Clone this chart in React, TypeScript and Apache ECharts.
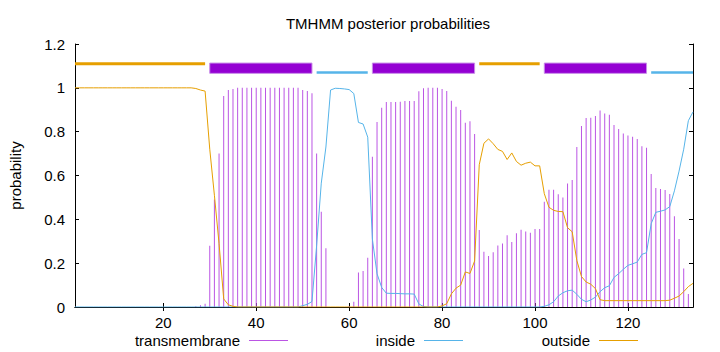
import React, { useEffect, useRef } from "react";
import * as echarts from "echarts";

// residue index (1..134)
const residues: number[] = Array.from({ length: 134 }, (_, i) => i + 1);

// posterior probability of transmembrane, residues 1..134
const tmProb: number[] = [
  0, 0, 0, 0, 0, 0, 0, 0, 0, 0,
  0, 0, 0, 0, 0, 0, 0, 0, 0, 0,
  0, 0, 0, 0, 0, 0, 0.003, 0.008, 0.015, 0.28,
  0.49, 0.70, 0.963, 0.99, 0.995, 1, 1, 1, 1, 1,
  1, 1, 1, 1, 1, 1, 1, 1, 1, 0.99,
  0.985, 0.975, 0.70, 0.435, 0.268, 0, 0, 0, 0, 0.005,
  0.024, 0.157, 0.164, 0.225, 0.686, 0.844, 0.909, 0.935, 0.935, 0.935,
  0.937, 0.94, 0.94, 0.94, 0.984, 0.998, 1, 1, 1, 0.995,
  0.985, 0.941, 0.914, 0.899, 0.841, 0.847, 0.789, 0.351, 0.252, 0.233,
  0.25, 0.281, 0.29, 0.327, 0.297, 0.336, 0.353, 0.344, 0.339, 0.356,
  0.356, 0.48, 0.535, 0.535, 0.514, 0.5, 0.564, 0.58, 0.73, 0.826,
  0.862, 0.864, 0.871, 0.897, 0.883, 0.877, 0.83, 0.812, 0.792, 0.783,
  0.777, 0.766, 0.734, 0.727, 0.607, 0.543, 0.538, 0.534, 0.516, 0.414,
  0.31, 0.176, 0.059, 0
];

// posterior probability of inside, residues 1..134
const insideProb: number[] = [
  0, 0, 0, 0, 0, 0, 0, 0, 0, 0,
  0, 0, 0, 0, 0, 0, 0, 0, 0, 0,
  0, 0, 0, 0, 0, 0, 0, 0, 0, 0,
  0, 0, 0, 0, 0, 0, 0, 0, 0, 0,
  0, 0, 0, 0, 0, 0, 0, 0, 0, 0.006,
  0.012, 0.025, 0.28, 0.565, 0.73, 0.99, 0.998, 0.997, 0.995, 0.992,
  0.974, 0.842, 0.835, 0.775, 0.31, 0.152, 0.089, 0.063, 0.062, 0.062,
  0.061, 0.06, 0.06, 0.059, 0.014, 0.002, 0, 0, 0, 0,
  0, 0, 0, 0, 0, 0, 0, 0, 0, 0,
  0, 0, 0, 0, 0, 0, 0, 0, 0, 0,
  0, 0.003, 0.01, 0.024, 0.05, 0.065, 0.074, 0.077, 0.058, 0.035,
  0.024, 0.032, 0.045, 0.07, 0.088, 0.097, 0.135, 0.152, 0.172, 0.19,
  0.197, 0.205, 0.24, 0.248, 0.38, 0.432, 0.437, 0.443, 0.458, 0.53,
  0.62, 0.72, 0.85, 0.89
];

// posterior probability of outside, residues 1..134
const outsideProb: number[] = [
  1, 1, 1, 1, 1, 1, 1, 1, 1, 1,
  1, 1, 1, 1, 1, 1, 1, 1, 1, 1,
  1, 1, 1, 1, 1, 1, 0.997, 0.99, 0.985, 0.72,
  0.51, 0.29, 0.037, 0.01, 0.003, 0, 0, 0, 0, 0,
  0, 0, 0, 0, 0, 0, 0, 0, 0, 0,
  0, 0, 0, 0, 0, 0, 0, 0, 0, 0,
  0, 0, 0, 0, 0, 0, 0, 0, 0, 0,
  0, 0, 0, 0, 0, 0, 0, 0, 0, 0.005,
  0.015, 0.06, 0.086, 0.1, 0.16, 0.153, 0.21, 0.649, 0.747, 0.767,
  0.745, 0.719, 0.71, 0.673, 0.703, 0.664, 0.647, 0.656, 0.661, 0.644,
  0.644, 0.517, 0.455, 0.441, 0.436, 0.435, 0.362, 0.343, 0.212, 0.139,
  0.114, 0.104, 0.084, 0.033, 0.029, 0.029, 0.029, 0.029, 0.029, 0.029,
  0.029, 0.029, 0.029, 0.029, 0.029, 0.029, 0.029, 0.029, 0.031, 0.04,
  0.05, 0.07, 0.093, 0.108
];

// predicted topology segments
const segStart: number[] = [1, 30, 53, 65, 88, 102, 125];
const segEnd: number[] = [29, 52, 64, 87, 101, 124, 134];
const segType: string[] = ["outside", "TMhelix", "inside", "TMhelix", "outside", "TMhelix", "inside"];

const xTicks: number[] = [20, 40, 60, 80, 100, 120];

// legend entries
const legendNames: string[] = ["transmembrane", "inside", "outside"];

const PURPLE = "#9400D3";
const IMPULSE = "#bb55e4";
const BLUE = "#56B4E9";
const ORANGE = "#E69F00";
const FONT = "Liberation Sans";

export default function App() {
  const ref = useRef<HTMLDivElement>(null);
  useEffect(() => {
    if (!ref.current) return;
    const chart = echarts.init(ref.current, undefined, { renderer: "svg" });

    const tmData = residues.map((r, i) => [r, tmProb[i]]);
    const inData = residues.map((r, i) => [r, insideProb[i]]);
    const outData = residues.map((r, i) => [r, outsideProb[i]]);
    const segData = segStart.map((s, i) => [s, segEnd[i], segType[i] === "TMhelix" ? 1 : segType[i] === "inside" ? 2 : 0]);

    const axisLine = { show: true, lineStyle: { color: "#000", width: 1 } };
    const tick = { show: true, inside: true, length: 4, lineStyle: { color: "#000" } };

    // legend layout: equal columns, text right-aligned followed by a sample line
    const legendColors = [IMPULSE, BLUE, ORANGE];
    const colRight = [288, 463, 638];
    const legendY = 340;
    const legendGraphics: any[] = [];
    legendNames.forEach((name, i) => {
      const lineEnd = colRight[i];
      const lineStart = lineEnd - 39;
      legendGraphics.push({
        type: "text",
        x: lineStart - 9,
        y: legendY,
        style: {
          text: name,
          fill: "#000",
          font: `15px "${FONT}"`,
          textAlign: "right",
          textVerticalAlign: "middle",
        },
      });
      legendGraphics.push({
        type: "line",
        shape: { x1: lineStart, y1: legendY + 0.5, x2: lineEnd, y2: legendY + 0.5 },
        style: { stroke: legendColors[i], lineWidth: 1 },
      });
    });

    chart.setOption({
      animation: false,
      title: {
        text: "TMHMM posterior probabilities",
        left: 383,
        top: 11,
        textAlign: "center",
        textStyle: { fontFamily: FONT, fontSize: 15, fontWeight: "normal", color: "#000" },
      },
      graphic: legendGraphics,
      grid: { left: 73, right: 27, top: 44, bottom: 45, containLabel: false },
      xAxis: [
        {
          type: "value",
          min: 1,
          max: 134,
          axisLine,
          axisTick: { ...tick, customValues: xTicks },
          axisLabel: { customValues: xTicks, fontFamily: FONT, fontSize: 15, color: "#000", margin: 8 },
          splitLine: { show: false },
        },
        {
          type: "value",
          position: "top",
          min: 1,
          max: 134,
          axisLine,
          axisTick: { ...tick, customValues: xTicks },
          axisLabel: { show: false },
          splitLine: { show: false },
        },
      ],
      yAxis: [
        {
          type: "value",
          min: 0,
          max: 1.2,
          interval: 0.2,
          name: "probability",
          nameLocation: "middle",
          nameGap: 52,
          nameTextStyle: { fontFamily: FONT, fontSize: 15, color: "#000" },
          axisLine,
          axisTick: tick,
          axisLabel: { fontFamily: FONT, fontSize: 15, color: "#000", margin: 10 },
          splitLine: { show: false },
        },
        {
          type: "value",
          position: "right",
          min: 0,
          max: 1.2,
          interval: 0.2,
          axisLine,
          axisTick: tick,
          axisLabel: { show: false },
          splitLine: { show: false },
        },
      ],
      series: [
        {
          name: "transmembrane",
          type: "bar",
          xAxisIndex: 0,
          yAxisIndex: 0,
          barWidth: 1,
          data: tmData,
          itemStyle: { color: IMPULSE },
        },
        {
          name: "inside",
          type: "line",
          xAxisIndex: 0,
          yAxisIndex: 0,
          data: inData,
          showSymbol: false,
          symbol: "none",
          lineStyle: { color: BLUE, width: 1 },
          itemStyle: { color: BLUE },
        },
        {
          name: "outside",
          type: "line",
          xAxisIndex: 0,
          yAxisIndex: 0,
          data: outData,
          showSymbol: false,
          symbol: "none",
          lineStyle: { color: ORANGE, width: 1 },
          itemStyle: { color: ORANGE },
        },
        {
          name: "topology",
          type: "custom",
          xAxisIndex: 0,
          yAxisIndex: 0,
          clip: false,
          data: segData,
          renderItem: (params: any, api: any) => {
            const s = api.value(0);
            const e = api.value(1);
            const t = api.value(2);
            if (t === 1) {
              const a = api.coord([s, 1.113]);
              const b = api.coord([e, 1.066]);
              return {
                type: "rect",
                shape: { x: a[0], y: a[1], width: b[0] - a[0], height: b[1] - a[1] },
                style: { fill: PURPLE, stroke: "#c88ce8", lineWidth: 1 },
              };
            }
            const y = t === 2 ? 1.07 : 1.11;
            const a = api.coord([s, y]);
            const b = api.coord([e, y]);
            return {
              type: "line",
              shape: { x1: a[0], y1: a[1], x2: b[0], y2: b[1] },
              style: { stroke: t === 2 ? BLUE : ORANGE, lineWidth: t === 2 ? 2.5 : 3 },
            };
          },
        },
      ],
    });
    return () => chart.dispose();
  }, []);
  return (
    <div
      ref={ref}
      style={{ position: "absolute", left: 0, top: 0, width: 720, height: 352, background: "#fff" }}
    />
  );
}
